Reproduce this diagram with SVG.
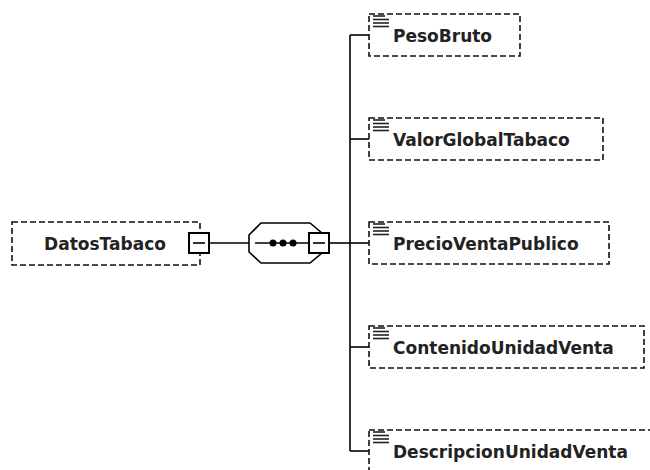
<svg xmlns="http://www.w3.org/2000/svg" width="650" height="470" viewBox="0 0 650 470">
<style>
.box{fill:#fff;stroke:#111;stroke-width:1.6;stroke-dasharray:6,3}
.lbl{font-family:"DejaVu Sans",Verdana,sans-serif;font-weight:bold;font-size:17px;fill:#222}
.ln{stroke:#000;stroke-width:1.6;fill:none}
.mbox{fill:#fff;stroke:#000;stroke-width:2}
.ico{stroke:#222;stroke-width:1.6}
</style>
<defs>
<g id="icon">
<line class="ico" x1="3" y1="1" x2="15" y2="1"/>
<line class="ico" x1="3" y1="4.5" x2="19" y2="4.5"/>
<line class="ico" x1="3" y1="8" x2="19" y2="8"/>
<line class="ico" x1="3" y1="11.5" x2="19" y2="11.5"/>
</g>
</defs>
<g id="connectors">
<line class="ln" x1="209" y1="243" x2="249" y2="243"/>
<line class="ln" x1="329" y1="243" x2="350" y2="243"/>
<line class="ln" x1="350" y1="35" x2="350" y2="451"/>
<line class="ln" x1="350" y1="35" x2="369" y2="35"/>
<line class="ln" x1="350" y1="139" x2="369" y2="139"/>
<line class="ln" x1="350" y1="243" x2="369" y2="243"/>
<line class="ln" x1="350" y1="347" x2="369" y2="347"/>
<line class="ln" x1="350" y1="451" x2="369" y2="451"/>
</g>
<g id="DatosTabaco">
<rect class="box" x="12" y="222" width="188" height="43"/>
<text class="lbl" x="105" y="250" text-anchor="middle">DatosTabaco</text>
<rect class="mbox" x="189" y="233" width="20" height="20"/>
<line class="ln" x1="193" y1="243" x2="205" y2="243"/>
</g>
<g id="sequence">
<polygon points="249,235 261,223 310,223 322,233 322,253 310,263 261,263 249,252" fill="#fff" stroke="#000" stroke-width="1.6"/>
<line class="ln" x1="255" y1="243" x2="309" y2="243"/>
<circle cx="273" cy="243" r="3.5" fill="#000"/>
<circle cx="283" cy="243" r="3.5" fill="#000"/>
<circle cx="293" cy="243" r="3.5" fill="#000"/>
<rect class="mbox" x="309" y="233" width="20" height="20"/>
<line class="ln" x1="313" y1="243" x2="325" y2="243"/>
</g>
<g id="PesoBruto">
<rect class="box" x="369" y="14" width="151" height="42"/>
<use href="#icon" x="370" y="15"/>
<text class="lbl" x="393" y="42">PesoBruto</text>
</g>
<g id="ValorGlobalTabaco">
<rect class="box" x="369" y="118" width="234" height="42"/>
<use href="#icon" x="370" y="119"/>
<text class="lbl" x="393" y="146">ValorGlobalTabaco</text>
</g>
<g id="PrecioVentaPublico">
<rect class="box" x="369" y="222" width="240" height="42"/>
<use href="#icon" x="370" y="223"/>
<text class="lbl" x="393" y="250">PrecioVentaPublico</text>
</g>
<g id="ContenidoUnidadVenta">
<rect class="box" x="369" y="326" width="275" height="42"/>
<use href="#icon" x="370" y="327"/>
<text class="lbl" x="393" y="354">ContenidoUnidadVenta</text>
</g>
<g id="DescripcionUnidadVenta">
<rect class="box" x="369" y="430" width="290" height="42"/>
<use href="#icon" x="370" y="431"/>
<text class="lbl" x="393" y="458">DescripcionUnidadVenta</text>
</g>
</svg>
